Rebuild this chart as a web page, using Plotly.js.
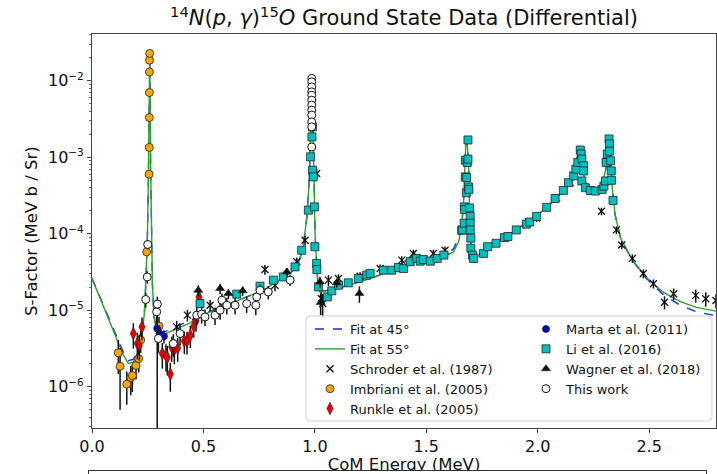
<!DOCTYPE html>
<html>
<head>
<meta charset="utf-8">
<script src="https://cdn.plot.ly/plotly-3.0.1.min.js"></script>
<style>
  html, body { margin: 0; padding: 0; background: #fff; }
  #wrap { position: relative; width: 717px; height: 474px; overflow: hidden; }
  #chart { width: 717px; height: 474px; }
  #lowerbox { position: absolute; left: 88px; top: 470px; width: 619px; height: 20px;
              border: 1.5px solid #333; background: #fff; box-sizing: border-box; }
</style>
</head>
<body>
<div id="wrap">
  <div id="chart"></div>
  <div id="lowerbox"></div>
</div>
<script>
// ---------------- Fit curves ----------------
const fitE = [0.000,0.051,0.096,0.141,0.163,0.186,0.208,0.223,0.235,0.242,0.248,0.253,0.256,0.257,0.259,0.2603,0.263,0.266,0.271,0.278,0.290,0.305,0.350,0.395,0.440,0.485,0.545,0.619,0.694,0.769,0.844,0.889,0.926,0.948,0.964,0.974,0.980,0.984,0.986,0.989,0.992,0.996,1.001,1.008,1.016,1.023,1.068,1.128,1.203,1.293,1.382,1.435,1.445,1.457,1.502,1.577,1.622,1.645,1.659,1.667,1.673,1.677,1.683,1.690,1.694,1.700,1.707,1.718,1.760,1.820,1.881,1.942,2.002,2.062,2.108,2.146,2.168,2.184,2.190,2.198,2.210,2.229,2.259,2.286,2.304,2.317,2.321,2.327,2.334,2.347,2.372,2.425,2.486,2.561,2.637,2.712,2.810];
const fit55S = [2.59e-5,1.10e-5,5.48e-6,2.58e-6,2.01e-6,2.11e-6,2.85e-6,4.48e-6,9.06e-6,2.23e-5,7.45e-5,5.0e-4,2.25e-3,8.3e-3,2.27e-2,8.3e-3,8.26e-4,1.11e-4,2.23e-5,8.18e-6,5.48e-6,4.57e-6,5.21e-6,5.87e-6,6.82e-6,8.36e-6,1.0e-5,1.22e-5,1.49e-5,1.82e-5,2.52e-5,3.02e-5,4.07e-5,6.73e-5,1.66e-4,4.53e-4,1.51e-3,5.56e-3,1.07e-2,5.56e-3,1.51e-3,3.35e-4,1.0e-4,3.68e-5,1.86e-5,1.73e-5,1.82e-5,2.02e-5,2.34e-5,2.87e-5,3.87e-5,5.08e-5,5.78e-5,4.98e-5,4.51e-5,4.98e-5,5.78e-5,7.82e-5,1.23e-4,2.48e-4,6.76e-4,1.41e-3,1.68e-3,7.33e-4,1.96e-4,7.11e-5,4.99e-5,4.75e-5,5.82e-5,7.89e-5,1.02e-4,1.33e-4,1.77e-4,2.53e-4,3.43e-4,4.65e-4,6.97e-4,1.22e-3,1.41e-3,8.97e-4,5.14e-4,3.91e-4,3.68e-4,4.19e-4,6.62e-4,1.65e-3,1.82e-3,9.93e-4,3.99e-4,1.77e-4,8.73e-5,4.52e-5,2.72e-5,1.73e-5,1.30e-5,1.09e-5,9.59e-6];
const fit45S = [2.62e-5,1.13e-5,5.70e-6,2.82e-6,2.19e-6,2.29e-6,3.02e-6,4.60e-6,9.10e-6,2.23e-5,7.45e-5,5.0e-4,2.25e-3,8.3e-3,2.27e-2,8.3e-3,8.26e-4,1.11e-4,2.25e-5,8.40e-6,5.70e-6,4.90e-6,5.62e-6,6.31e-6,7.24e-6,8.50e-6,1.01e-5,1.22e-5,1.49e-5,1.82e-5,2.52e-5,3.02e-5,4.07e-5,6.73e-5,1.66e-4,4.53e-4,1.51e-3,5.56e-3,1.07e-2,5.56e-3,1.51e-3,3.35e-4,1.0e-4,3.68e-5,1.86e-5,1.75e-5,1.84e-5,2.04e-5,2.36e-5,2.90e-5,3.92e-5,5.10e-5,5.60e-5,5.05e-5,4.65e-5,5.25e-5,6.31e-5,8.91e-5,1.30e-4,2.55e-4,6.76e-4,1.41e-3,1.68e-3,7.33e-4,1.96e-4,7.11e-5,4.99e-5,4.80e-5,5.82e-5,7.89e-5,1.02e-4,1.33e-4,1.77e-4,2.53e-4,3.43e-4,4.65e-4,6.97e-4,1.22e-3,1.41e-3,8.97e-4,5.14e-4,3.91e-4,3.68e-4,4.19e-4,6.62e-4,1.65e-3,1.82e-3,9.93e-4,3.99e-4,1.77e-4,8.60e-5,4.45e-5,2.63e-5,1.62e-5,1.17e-5,9.55e-6,8.32e-6];

// ---------------- Schroder et al. (1987) ----------------
const schE = [0.380,0.428,0.530,0.776,0.821,0.919,0.956,0.986,1.008,1.029,1.035,1.061,1.106,1.203,1.293,1.390,1.442,1.532,1.584,1.715,1.778,1.866,1.958,1.995,2.085,2.146,2.236,2.286,2.353,2.377,2.425,2.474,2.519,2.569,2.610,2.709,2.754,2.800];
const schS = [6.05e-6,8.61e-6,1.16e-5,3.40e-5,2.12e-5,4.29e-5,8.22e-5,3.21e-3,6.12e-4,1.42e-5,1.22e-5,2.47e-5,2.59e-5,2.78e-5,3.51e-5,4.51e-5,5.51e-5,5.51e-5,6.08e-5,4.75e-5,6.76e-5,9.44e-5,1.42e-4,1.60e-4,2.94e-4,4.65e-4,3.61e-4,1.96e-4,1.12e-4,7.11e-5,4.75e-5,3.01e-5,2.22e-5,1.27e-5,1.64e-5,1.56e-5,1.41e-5,1.34e-5];
const schErr = [1.2e-6,1.5e-6,2.0e-6,5.0e-6,3.5e-6,6.0e-6,1.2e-5,4.0e-4,8.0e-5,3.0e-6,4.0e-6,4.0e-6,3.5e-6,3.5e-6,4.5e-6,5.5e-6,6.5e-6,6.5e-6,7.0e-6,6.0e-6,8.0e-6,1.1e-5,1.6e-5,1.8e-5,3.2e-5,5.0e-5,4.0e-5,2.2e-5,1.3e-5,8.5e-6,6.0e-6,4.0e-6,3.0e-6,2.5e-6,2.8e-6,3.0e-6,3.0e-6,2.8e-6];

// ---------------- Imbriani et al. (2005) ----------------
const imbE = [0.118,0.126,0.156,0.174,0.181,0.1975,0.2096,0.2185,0.245,0.256,0.257,0.2572,0.2575,0.2578,0.258,0.259,0.3007];
const imbS = [2.77e-6,1.85e-6,1.08e-6,1.32e-6,1.40e-6,1.89e-6,2.33e-6,4.07e-6,5.78e-5,6.0e-4,1.34e-3,3.3e-3,7.0e-3,1.3e-2,1.85e-2,2.27e-2,6.18e-6];
const imbErr = [1.3e-6,1.35e-6,5.0e-7,5.5e-7,5.5e-7,6.5e-7,8.0e-7,1.3e-6,5.0e-6,3.0e-5,6.0e-5,1.5e-4,3.0e-4,5.0e-4,7.0e-4,9.0e-4,2.0e-6];

// ---------------- Runkle et al. (2005) ----------------
const runE = [0.1855,0.2035,0.2125,0.2244,0.3156,0.332,0.338,0.3515,0.3577,0.3695,0.3845,0.4144,0.4264,0.4413,0.4563,0.4668,0.480];
const runS = [4.95e-6,3.67e-6,3.48e-6,6.05e-6,2.72e-6,2.58e-6,2.40e-6,1.46e-6,3.31e-6,3.06e-6,3.21e-6,3.97e-6,3.94e-6,4.71e-6,6.18e-6,7.24e-6,1.49e-5];
const runErr = [1.8e-6,1.4e-6,1.3e-6,2.0e-6,1.0e-6,1.0e-6,1.0e-6,6.0e-7,1.2e-6,1.1e-6,1.1e-6,1.3e-6,1.3e-6,1.5e-6,1.8e-6,2.0e-6,3.5e-6];

// ---------------- Marta et al. (2011) ----------------
const marE = [0.2926,0.3034,0.323];
const marS = [5.75e-6,4.95e-6,4.57e-6];
const marErrPlus = [7.7e-6,1.0e-6,9.0e-7];
const marErrMinus = [5.74e-6,1.0e-6,9.0e-7];

// ---------------- Li et al. (2016) ----------------
const liE = [0.4847,0.6494,0.754,0.814,0.859,0.911,0.941,0.971,0.981,0.987,0.989,0.990,0.993,0.998,1.000,1.008,1.009,1.016,1.056,1.076,1.106,1.150,1.195,1.233,1.248,1.307,1.345,1.375,1.398,1.428,1.457,1.473,1.487,1.518,1.549,1.579,1.659,1.662,1.670,1.671,1.672,1.675,1.676,1.680,1.681,1.684,1.687,1.687,1.689,1.691,1.694,1.697,1.697,1.697,1.700,1.700,1.707,1.712,1.757,1.775,1.813,1.851,1.866,1.904,1.949,1.964,1.995,2.040,2.078,2.115,2.138,2.161,2.171,2.180,2.191,2.195,2.198,2.206,2.206,2.198,2.214,2.236,2.259,2.289,2.297,2.304,2.307,2.312,2.320,2.322,2.322,2.327,2.330,2.331,2.338];
const liS = [1.22e-5,1.62e-5,2.06e-5,2.47e-5,2.72e-5,3.68e-5,6.08e-5,2.03e-4,1.01e-3,1.84e-3,2.49e-3,6.76e-4,5.53e-4,2.24e-4,6.76e-5,4.07e-5,3.40e-5,2.02e-5,1.49e-5,1.79e-5,2.12e-5,2.28e-5,2.59e-5,2.87e-5,3.02e-5,3.33e-5,3.33e-5,3.61e-5,3.50e-5,4.30e-5,4.73e-5,4.37e-5,4.59e-5,4.37e-5,4.75e-5,5.25e-5,1.11e-4,1.12e-4,1.37e-4,2.24e-4,2.07e-4,5.53e-4,9.12e-4,3.43e-4,5.41e-4,8.53e-4,9.44e-4,1.68e-3,4.09e-4,3.79e-4,2.17e-4,1.68e-4,1.37e-4,1.12e-4,8.73e-5,6.46e-5,5.25e-5,4.75e-5,5.53e-5,6.76e-5,7.50e-5,8.89e-5,9.16e-5,1.12e-4,1.33e-4,1.42e-4,1.68e-4,2.21e-4,2.88e-4,3.68e-4,4.65e-4,5.69e-4,6.97e-4,8.53e-4,1.24e-3,1.10e-3,9.44e-4,7.71e-4,6.61e-4,4.89e-4,3.99e-4,3.68e-4,3.61e-4,3.79e-4,4.19e-4,4.89e-4,8.53e-4,1.10e-3,1.73e-3,1.49e-3,1.20e-3,8.97e-4,6.62e-4,4.99e-4,2.72e-4];

// ---------------- Wagner et al. (2018) ----------------
const wagE = [0.477,0.575,0.612,0.676,0.874,1.023,1.026,1.098,1.200];
const wagS = [1.82e-5,1.92e-5,1.65e-5,1.79e-5,3.17e-5,2.34e-5,1.26e-5,2.28e-5,1.65e-5];
const wagErr = [3.0e-6,3.0e-6,2.5e-6,2.5e-6,4.0e-6,4.0e-6,4.0e-6,3.0e-6,4.0e-6];

// ---------------- This work ----------------
const twE = [0.241,0.248,0.250,0.290,0.293,0.298,0.365,0.395,0.470,0.492,0.507,0.552,0.575,0.583,0.605,0.642,0.694,0.735,0.739,0.754,0.791,0.889,0.986,0.986,0.986,0.986,0.986,0.986,0.986,0.986,0.986,0.986,0.986,0.986];
const twS = [1.38e-5,2.72e-5,7.23e-5,9.51e-6,1.20e-5,4.27e-6,3.66e-6,4.95e-6,8.61e-6,8.87e-6,8.17e-6,8.61e-6,1.0e-5,1.35e-5,1.16e-5,1.16e-5,1.22e-5,1.16e-5,1.49e-5,1.82e-5,1.73e-5,2.47e-5,1.07e-2,9.66e-3,8.30e-3,7.14e-3,6.46e-3,5.56e-3,4.79e-3,4.11e-3,3.55e-3,2.89e-3,2.49e-3,1.36e-3];
const twErr = [3.0e-6,5.0e-6,1.0e-5,3.0e-6,3.0e-6,1.5e-6,1.2e-6,1.5e-6,2.2e-6,2.2e-6,2.0e-6,2.2e-6,2.5e-6,3.0e-6,2.8e-6,2.8e-6,3.0e-6,3.0e-6,3.2e-6,3.5e-6,3.5e-6,4.0e-6,5.0e-4,5.0e-4,4.0e-4,3.5e-4,3.0e-4,2.8e-4,2.4e-4,2.0e-4,1.8e-4,1.5e-4,1.2e-4,7.0e-5];

// ---------------- Y tick labels ----------------
const yTickVals = [1e-6, 1e-5, 1e-4, 1e-3, 1e-2];
const yTickText = ['10<sup><span style="font-size:10.5px">−6</span></sup>',
                   '10<sup><span style="font-size:10.5px">−5</span></sup>',
                   '10<sup><span style="font-size:10.5px">−4</span></sup>',
                   '10<sup><span style="font-size:10.5px">−3</span></sup>',
                   '10<sup><span style="font-size:10.5px">−2</span></sup>'];

const FONT = 'DejaVu Sans, Liberation Sans, sans-serif';
function eb(arr, minus) {
  const o = {type:'data', array: arr, color:'#111', thickness:1.5, width:0, visible:true};
  if (minus) { o.symmetric = false; o.arrayminus = minus; }
  return o;
}

const traces = [
  {x: fitE, y: fit45S, mode:'lines', name:'Fit at 45°', legend:'legend',
   line:{color:'#1f1fff', width:1.4, dash:'dash'}},
  {x: fitE, y: fit55S, mode:'lines', name:'Fit at 55°', legend:'legend',
   line:{color:'#2ca02c', width:1.4}},
  {x: schE, y: schS, mode:'markers', name:'Schroder et al. (1987)', legend:'legend',
   marker:{symbol:'x-thin-open', size:7, color:'#111', line:{color:'#111', width:1.3}},
   error_y: eb(schErr)},
  {x: imbE, y: imbS, mode:'markers', name:'Imbriani et al. (2005)', legend:'legend',
   marker:{symbol:'circle', size:8, color:'#FFA500', line:{color:'#222', width:0.8}},
   error_y: eb(imbErr)},
  {x: runE, y: runS, mode:'markers', name:'Runkle et al. (2005)', legend:'legend',
   marker:{symbol:'diamond-tall', size:9, color:'#ee0000', line:{color:'#222', width:0.6}},
   error_y: eb(runErr)},
  {x: marE, y: marS, mode:'markers', name:'Marta et al. (2011)', legend:'legend2',
   marker:{symbol:'circle', size:7, color:'#0000cc', line:{color:'#222', width:0.8}},
   error_y: eb(marErrPlus, marErrMinus)},
  {x: liE, y: liS, mode:'markers', name:'Li et al. (2016)', legend:'legend2',
   marker:{symbol:'square', size:8, color:'#00BFBF', line:{color:'#222', width:0.8}}},
  {x: wagE, y: wagS, mode:'markers', name:'Wagner et al. (2018)', legend:'legend2',
   marker:{symbol:'triangle-up', size:8, color:'#111', line:{color:'#111', width:0.5}},
   error_y: eb(wagErr)},
  {x: twE, y: twS, mode:'markers', name:'This work', legend:'legend2',
   marker:{symbol:'circle', size:8, color:'#ffffff', line:{color:'#111', width:1}},
   error_y: eb(twErr)}
];

// legend frame (matplotlib-style rounded box) in paper coordinates
const L = 92, T = 34, W = 624, H = 394;
function px(x){ return (x - L) / W; }
function py(y){ return (T + H - y) / H; }
const bx0 = px(306), bx1 = px(712), by0 = py(421), by1 = py(316);
const rx = 4 / W, ry = 4 / H;
const framePath = `M ${bx0+rx},${by0} L ${bx1-rx},${by0} Q ${bx1},${by0} ${bx1},${by0+ry} L ${bx1},${by1-ry} Q ${bx1},${by1} ${bx1-rx},${by1} L ${bx0+rx},${by1} Q ${bx0},${by1} ${bx0},${by1-ry} L ${bx0},${by0+ry} Q ${bx0},${by0} ${bx0+rx},${by0} Z`;

const legendCommon = {xanchor: 'left', y: py(314), yanchor: 'top',
  bgcolor: 'rgba(0,0,0,0)', borderwidth: 0, itemwidth: 30, tracegroupgap: 0,
  font: {family: FONT, size: 13, color: '#111'}};

const layout = {
  width: 717, height: 474,
  margin: {l: L, r: 717 - L - W, t: T, b: 474 - T - H, pad: 0},
  paper_bgcolor: '#fff', plot_bgcolor: '#fff',
  font: {family: FONT, color: '#111', size: 16},
  showlegend: true,
  title: {text: '<sup>14</sup><i>N</i>(<i>p</i>, <i>γ</i>)<sup>15</sup><i>O</i> Ground State Data (Differential)',
          font: {family: FONT, size: 21, color: '#111'},
          xref: 'paper', x: 0.5, xanchor: 'center', yref: 'container', y: 1 - 18/474, yanchor: 'middle'},
  xaxis: {range: [0, 2.8], tick0: 0, dtick: 0.5, tickformat: '.1f',
          ticks: 'outside', ticklen: 4, tickwidth: 1, tickcolor: '#444',
          showline: true, mirror: true, linecolor: '#444', linewidth: 1,
          showgrid: false, zeroline: false,
          tickfont: {family: FONT, size: 16, color: '#111'},
          title: {text: 'CoM Energy (MeV)', font: {family: FONT, size: 16.5, color: '#111'}, standoff: 4},
          automargin: false},
  yaxis: {type: 'log', range: [-6.54, -1.39], tickmode: 'array', tickvals: yTickVals, ticktext: yTickText,
          ticks: 'outside', ticklen: 4, tickwidth: 1, tickcolor: '#444',
          minor: {ticks: 'outside', ticklen: 2, tickcolor: '#666', showgrid: false, dtick: 'D1'},
          showline: true, mirror: true, linecolor: '#444', linewidth: 1,
          showgrid: false, zeroline: false,
          tickfont: {family: FONT, size: 16, color: '#111'},
          automargin: false},
  annotations: [{text: 'S-Factor (MeV b / Sr)', xref: 'paper', yref: 'paper',
                 x: px(31), y: 0.5, xanchor: 'center', yanchor: 'middle', textangle: -90,
                 showarrow: false, font: {family: FONT, size: 16.5, color: '#111'}}],
  legend: Object.assign({x: px(310)}, legendCommon),
  legend2: Object.assign({x: px(526)}, legendCommon),
  shapes: [{type: 'path', xref: 'paper', yref: 'paper', path: framePath,
            fillcolor: 'rgba(255,255,255,0.82)', line: {color: '#d0d0d0', width: 1}, layer: 'above'}]
};

Plotly.newPlot('chart', traces, layout, {staticPlot: true, displayModeBar: false});
</script>
</body>
</html>
